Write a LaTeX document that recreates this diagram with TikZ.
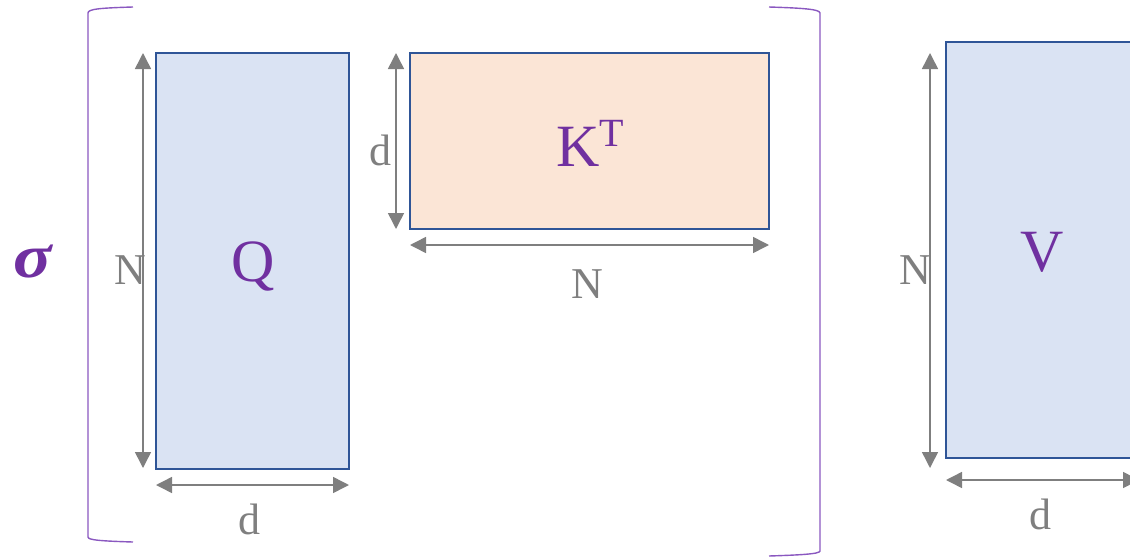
\documentclass[tikz,border=0pt]{standalone}
\usepackage{fontspec}
\setmainfont{Liberation Serif}
\usetikzlibrary{arrows.meta}
\definecolor{boxblue}{HTML}{2F5597}
\definecolor{qfill}{HTML}{DAE3F3}
\definecolor{kfill}{HTML}{FBE5D6}
\definecolor{txtpurple}{HTML}{7030A0}
\definecolor{brpurple}{HTML}{8A58C0}
\definecolor{dimgray}{HTML}{7F7F7F}
\tikzset{
  mat/.style={draw=boxblue, line width=2pt, inner sep=0pt, outer sep=0pt},
  dimline/.style={draw=dimgray, line width=1.5pt, {Triangle[length=16pt,width=16pt]}-{Triangle[length=16pt,width=16pt]}},
  dimlabel/.style={text=dimgray, inner sep=0pt, font=\fontsize{44}{44}\selectfont},
  matlabel/.style={text=txtpurple, inner sep=0pt, font=\fontsize{60}{60}\selectfont},
  bracket/.style={draw=brpurple, line width=1.4pt}
}
\begin{document}
\begin{tikzpicture}[x=1pt,y=-1pt]
\useasboundingbox (0,0) rectangle (1130,557);
\clip (0,0) rectangle (1130,557);
% matrices
\node[mat, fill=qfill, minimum width=193pt, minimum height=416pt] (Q) at (252.5,261) {};
\node[mat, fill=kfill, minimum width=359pt, minimum height=176pt] (K) at (589.5,141) {};
\node[mat, fill=qfill, minimum width=193pt, minimum height=416pt] (V) at (1042.5,250) {};
% matrix labels
\node[matlabel] (Ql) at (253,266) {Q};
\node[matlabel] (Kl) at (590,143) {K\raisebox{20pt}{\fontsize{40}{40}\selectfont T}};
\node[matlabel] (Vl) at (1042,252) {V};
% sigma
\node[text=txtpurple, inner sep=0pt, xscale=1.15, font=\fontsize{62}{62}\selectfont\bfseries\itshape] (sig) at (33,262) {σ};
% brackets
\draw[bracket] (133,7) .. controls (100,8) and (88,9) .. (88,13) -- (88,537) .. controls (88,540) and (100,541) .. (133,542);
\draw[bracket] (769,7) .. controls (800,8) and (820,9) .. (820,13) -- (820,551) .. controls (820,554) and (800,555) .. (769,556);
% dimension lines
\coordinate (qa) at ([xshift=-13pt]Q.north west);
\coordinate (qb) at ([xshift=-13pt,yshift=1pt]Q.south west);
\draw[dimline] (qa) -- (qb);
\coordinate (qc) at ([yshift=-16pt]Q.south west);
\coordinate (qd) at ([yshift=-16pt]Q.south east);
\draw[dimline] (qc) -- (qd);
\coordinate (ka) at ([xshift=-14pt]K.north west);
\coordinate (kb) at ([xshift=-14pt]K.south west);
\draw[dimline] (ka) -- (kb);
\coordinate (kc) at ([yshift=-16pt]K.south west);
\coordinate (kd) at ([yshift=-16pt]K.south east);
\draw[dimline] (kc) -- (kd);
\coordinate (va) at ([xshift=-16pt,yshift=-11pt]V.north west);
\coordinate (vb) at ([xshift=-16pt,yshift=-10pt]V.south west);
\draw[dimline] (va) -- (vb);
\coordinate (vc) at ([yshift=-22pt]V.south west);
\coordinate (vd) at ([yshift=-22pt]V.south east);
\draw[dimline] (vc) -- (vd);
% dimension labels
\node[dimlabel] (qN) at (130,270) {N};
\node[dimlabel] (qd2) at (249,519) {d};
\node[dimlabel] (kd2) at (380,150) {d};
\node[dimlabel] (kN) at (587,284) {N};
\node[dimlabel] (vN) at (915,270) {N};
\node[dimlabel] (vd2) at (1040,514) {d};
\end{tikzpicture}
\end{document}
